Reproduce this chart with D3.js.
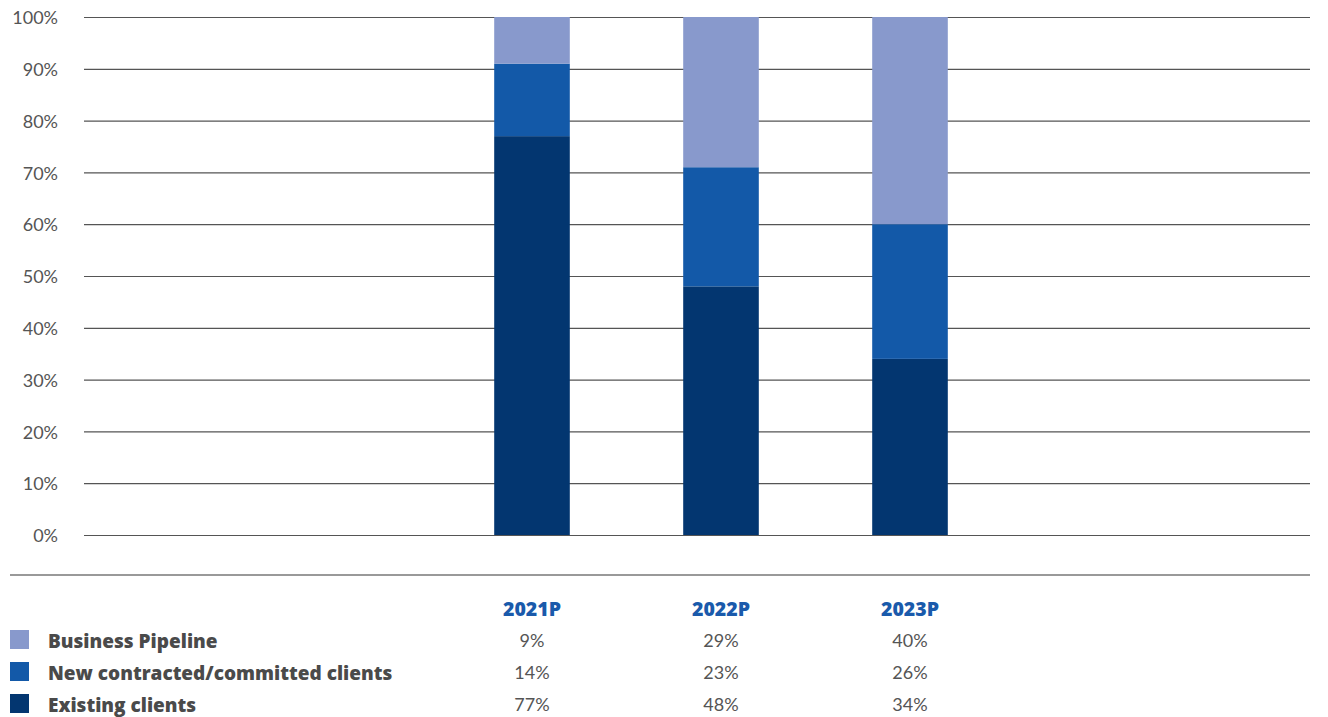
<!DOCTYPE html>
<html><head><meta charset="utf-8">
<script src="https://cdn.jsdelivr.net/npm/d3@7"></script>
<style>body{margin:0;background:#fff}svg{display:block}</style>
</head><body>
<svg id="c" width="1328" height="717"></svg>
<script>
const categories = ["2021P", "2022P", "2023P"];
const seriesNames = ["Existing clients", "New contracted/committed clients", "Business Pipeline"];
const existingClients = [77, 48, 34];
const newClients = [14, 23, 26];
const businessPipeline = [9, 29, 40];
const yTicks = [0, 10, 20, 30, 40, 50, 60, 70, 80, 90, 100];
const colors = ["#033670", "#1359a8", "#8899cc"];

const svg = d3.select("#c");
const font = "Lato, 'Noto Sans', sans-serif";
const boldFont = "'Open Sans', 'Noto Sans', sans-serif";
const y = d3.scaleLinear().domain([0, 100]).range([535, 17]);
const x = d3.scaleBand().domain(categories).range([437.5, 1004.5]).paddingInner(0.6).paddingOuter(0.3);
// grid
const gx0 = 84, gx1 = 1310;
svg.append("g").selectAll("line").data(yTicks).join("line")
  .attr("x1", gx0).attr("x2", gx1).attr("y1", d => y(d)+0.5).attr("y2", d => y(d)+0.5)
  .attr("stroke", "#555").attr("stroke-width", 1.2);
svg.append("g").selectAll("text").data(yTicks).join("text")
  .attr("x", 58).attr("y", d => y(d)).attr("dy", "0.4em").attr("text-anchor", "end")
  .attr("font-family", font).attr("font-size", 18).attr("fill", "#555")
  .text(d => d + "%");

const rows = categories.map((c, i) => ({cat: c, s0: existingClients[i], s1: newClients[i], s2: businessPipeline[i]}));
const stack = d3.stack().keys(["s0", "s1", "s2"])(rows);
svg.append("g").selectAll("g").data(stack).join("g").attr("fill", (d, i) => colors[i])
  .selectAll("rect").data(d => d).join("rect")
  .attr("x", d => x(d.data.cat)).attr("width", x.bandwidth())
  .attr("y", d => y(d[1])).attr("height", d => y(d[0]) - y(d[1]));

// separator
svg.append("line").attr("x1", 10).attr("x2", gx1).attr("y1", 575).attr("y2", 575)
  .attr("stroke", "#777").attr("stroke-width", 1.5);

// table
const cx = d => x(d) + x.bandwidth() / 2;
svg.append("g").selectAll("text").data(categories).join("text")
  .attr("x", cx).attr("y", 609).attr("dy", "0.35em").attr("text-anchor", "middle")
  .attr("font-family", boldFont).attr("font-weight", 800).attr("font-size", 19.5).attr("fill", "#1a5aab")
  .text(d => d);
const tableRows = [
  {name: seriesNames[2], vals: businessPipeline, color: colors[2]},
  {name: seriesNames[1], vals: newClients, color: colors[1]},
  {name: seriesNames[0], vals: existingClients, color: colors[0]}
];
const rowY = [641, 673, 705];
const tr = svg.append("g").selectAll("g").data(tableRows).join("g")
  .attr("transform", (d, i) => `translate(0,${rowY[i]})`);
tr.append("rect").attr("x", 10).attr("y", -11).attr("width", 19).attr("height", 19).attr("fill", d => d.color);
tr.append("text").attr("x", 48).attr("dy", "0.35em")
  .attr("font-family", boldFont).attr("font-weight", 800).attr("font-size", 19).attr("fill", "#4a4a4a")
  .text(d => d.name);
tr.selectAll("text.v").data(d => d.vals.map((v, i) => ({v, c: categories[i]}))).join("text")
  .attr("class", "v").attr("x", d => cx(d.c)).attr("dy", "0.35em").attr("text-anchor", "middle")
  .attr("font-family", font).attr("font-size", 18).attr("fill", "#555")
  .text(d => d.v + "%");
</script>
</body></html>
